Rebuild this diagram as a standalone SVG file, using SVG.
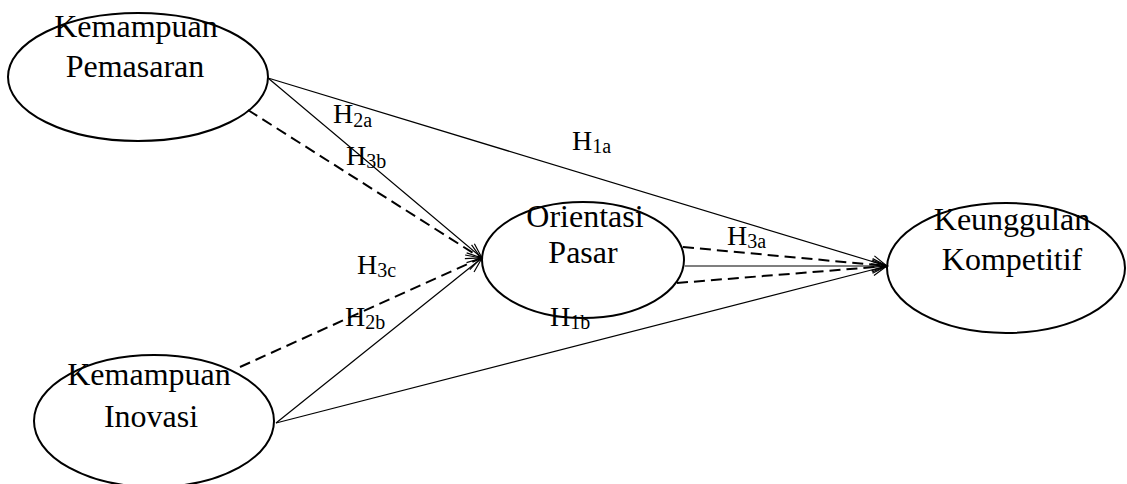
<svg xmlns="http://www.w3.org/2000/svg" width="1127" height="484" viewBox="0 0 1127 484">
<style>
.node ellipse{fill:#fff;stroke:#000;stroke-width:2}
.lbl{font-family:"Liberation Serif","Times New Roman",serif;font-size:32px;fill:#000;text-anchor:middle}
.h{font-family:"Liberation Serif","Times New Roman",serif;font-size:28px;fill:#000}
.sub{font-size:20px}
.solid{stroke:#000;stroke-width:1.2;fill:none;marker-end:url(#arr)}
.dash{stroke:#000;stroke-width:2;fill:none;stroke-dasharray:11 6;marker-end:url(#arr)}
</style>
<defs>
<marker id="arr" markerUnits="userSpaceOnUse" markerWidth="18" markerHeight="14" refX="16" refY="7" orient="auto">
<path d="M1,1 L16,7 L1,13" fill="none" stroke="#000" stroke-width="1.2"/>
</marker>
</defs>
<g id="kemampuan-pemasaran" class="node">
<ellipse cx="138" cy="77" rx="130" ry="64"/>
<text class="lbl" x="136" y="37">Kemampuan</text>
<text class="lbl" x="135" y="77">Pemasaran</text>
</g>
<g id="kemampuan-inovasi" class="node">
<ellipse cx="154" cy="421" rx="120" ry="66"/>
<text class="lbl" x="149" y="385">Kemampuan</text>
<text class="lbl" x="151" y="427">Inovasi</text>
</g>
<g id="orientasi-pasar" class="node">
<ellipse cx="583" cy="260" rx="101" ry="58"/>
<text class="lbl" x="585" y="227">Orientasi</text>
<text class="lbl" x="583" y="263">Pasar</text>
</g>
<g id="keunggulan-kompetitif" class="node">
<ellipse cx="1006" cy="268" rx="119" ry="65"/>
<text class="lbl" x="1012" y="230">Keunggulan</text>
<text class="lbl" x="1012" y="270">Kompetitif</text>
</g>
<g id="connectors">
<line class="solid" x1="268" y1="78" x2="482" y2="258"/>
<line class="solid" x1="268" y1="78" x2="887" y2="266"/>
<line class="dash" x1="248" y1="110" x2="481" y2="258"/>
<line class="dash" x1="240" y1="367" x2="481" y2="258"/>
<line class="solid" x1="276" y1="423" x2="482" y2="258"/>
<line class="solid" x1="276" y1="423" x2="887" y2="266"/>
<line class="solid" x1="685" y1="266" x2="887" y2="266"/>
<line class="dash" x1="683" y1="247" x2="887" y2="266"/>
<line class="dash" x1="677" y1="283" x2="887" y2="266"/>
</g>
<g id="labels">
<text class="h" x="333" y="123">H<tspan class="sub" dy="4">2a</tspan></text>
<text class="h" x="346" y="165">H<tspan class="sub" dy="3">3b</tspan></text>
<text class="h" x="572" y="150">H<tspan class="sub" dy="3">1a</tspan></text>
<text class="h" x="727" y="245">H<tspan class="sub" dy="3">3a</tspan></text>
<text class="h" x="357" y="274">H<tspan class="sub" dy="3">3c</tspan></text>
<text class="h" x="345" y="326">H<tspan class="sub" dy="3">2b</tspan></text>
<text class="h" x="550" y="326">H<tspan class="sub" dy="3">1b</tspan></text>
</g>
</svg>
